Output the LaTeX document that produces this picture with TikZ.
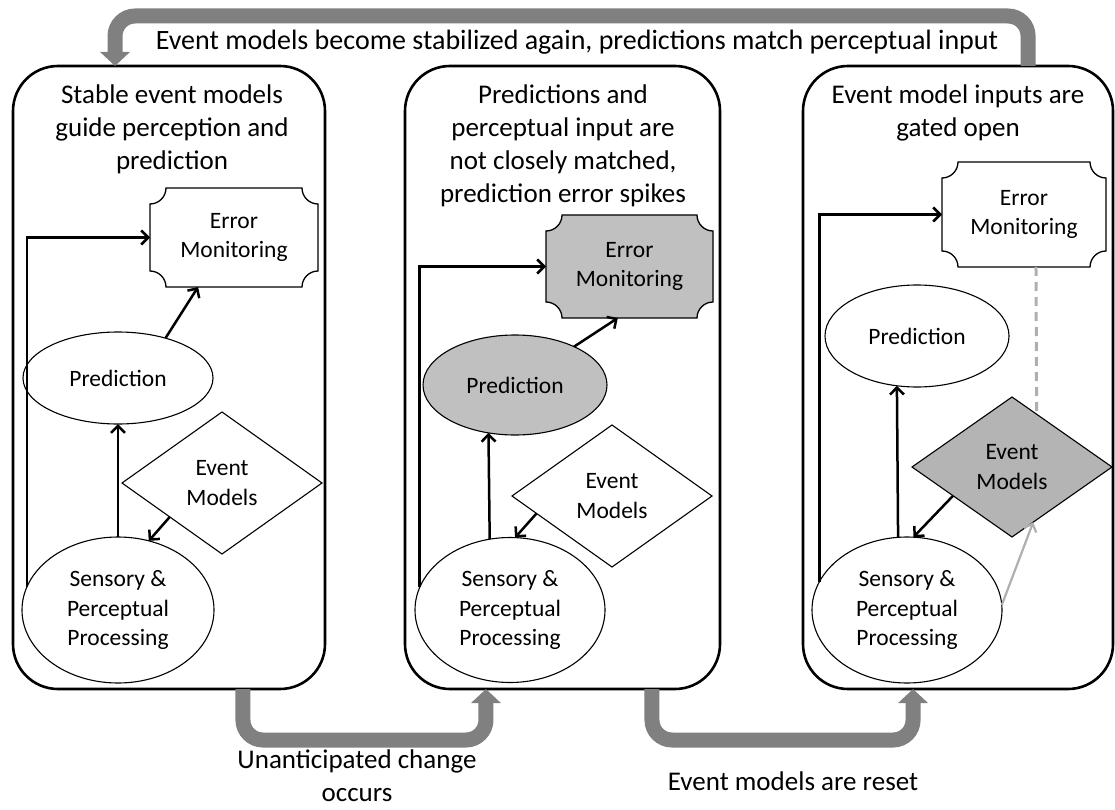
\documentclass[tikz,border=0pt]{standalone}
\usepackage{fontspec}
\setmainfont{Carlito}
\usetikzlibrary{shapes.geometric,arrows.meta,calc}
\definecolor{bigarrowgray}{RGB}{128,128,128}
\definecolor{nodegray}{RGB}{192,192,192}
\definecolor{diagray}{RGB}{180,180,180}
\definecolor{linkgray}{RGB}{175,175,175}
\newcommand\nodefont{\fontsize{23.5}{29.5}\selectfont}
\newcommand\titlefont{\fontsize{27}{33}\selectfont}
\newcommand\plaquebox[7]{%
 \pgfmathsetmacro\pxl{#2-#4}%
 \pgfmathsetmacro\pxr{#2+#4}%
 \pgfmathsetmacro\pyt{#3-#5}%
 \pgfmathsetmacro\pyb{#3+#5}%
 \draw[plaque, fill=#6] (\pxl+16,\pyt) -- (\pxr-16,\pyt)
   .. controls (\pxr-16,\pyt+8.8) and (\pxr-8.8,\pyt+16) .. (\pxr,\pyt+16)
   -- (\pxr,\pyb-16)
   .. controls (\pxr-8.8,\pyb-16) and (\pxr-16,\pyb-8.8) .. (\pxr-16,\pyb)
   -- (\pxl+16,\pyb)
   .. controls (\pxl+16,\pyb-8.8) and (\pxl+8.8,\pyb-16) .. (\pxl,\pyb-16)
   -- (\pxl,\pyt+16)
   .. controls (\pxl+8.8,\pyt+16) and (\pxl+16,\pyt+8.8) .. (\pxl+16,\pyt)
   -- cycle;
 \node[boxtext, minimum width=2*#4, minimum height=2*#5] (#1) at (#2,#3) {#7};
}
\begin{document}
\begin{tikzpicture}[x=1pt,y=-1pt,
  panel/.style={rectangle, draw=black, line width=2.6pt, rounded corners=45pt, inner sep=0pt, outer sep=0pt},
  bigarrow/.style={draw=bigarrowgray, line width=15pt, rounded corners=20pt, -{Triangle[width=29pt,length=14pt]}},
  plaque/.style={draw=black, line width=1.3pt},
  boxtext/.style={rectangle, draw=none, inner sep=0pt, outer sep=0pt, align=center, font=\nodefont},
  ellnode/.style={ellipse, draw=black, line width=1.1pt, inner sep=0pt, outer sep=0pt, align=center, font=\nodefont},
  dianode/.style={diamond, draw=black, line width=1.1pt, inner sep=0pt, outer sep=0pt, align=center, font=\nodefont, minimum width=200pt, minimum height=142pt},
  arr/.style={line width=2.5pt, -{Straight Barb[length=7pt,width=14pt]}},
  fb/.style={line width=2.5pt, -{Straight Barb[length=7pt,width=14pt]}},
  linkarrow/.style={draw=linkgray, line width=2.2pt, -{Straight Barb[length=7pt,width=13pt]}},
  linkdash/.style={draw=linkgray, line width=3pt, dash pattern=on 9pt off 6pt},
  title/.style={align=center, font=\titlefont, inner sep=0pt, anchor=north},
  label/.style={align=center, font=\titlefont, inner sep=0pt}
]
\useasboundingbox (0,0) rectangle (1115,810);

% panels
\node[panel, minimum width=312pt, minimum height=623pt] (p1) at (169,377.5) {};
\node[panel, minimum width=315pt, minimum height=623pt] (p2) at (562.5,377.5) {};
\node[panel, minimum width=310pt, minimum height=623pt] (p3) at (958,377.5) {};

% big gray arrows
\draw[bigarrow] ($(p3.north west)!0.726!(p3.north east)$) -- ++(0,-50) -| ($(p1.north west)!0.327!(p1.north east)$);
\draw[bigarrow] ($(p1.south west)!0.737!(p1.south east)$) -- ++(0,51) -| ($(p2.south west)!0.257!(p2.south east)$);
\draw[bigarrow] ($(p2.south west)!0.784!(p2.south east)$) -- ++(0,51) -| ($(p3.south west)!0.355!(p3.south east)$);

% labels of big arrows
\node[label, anchor=base, font=\fontsize{28}{33}\selectfont] (ltop) at (577,50) {Event models become stabilized again, predictions match perceptual input};
\node[label, anchor=north, font=\fontsize{27}{33}\selectfont] (lbotA) at (357,750) {Unanticipated change\\occurs};
\node[label, anchor=base] (lbotB) at (793,790) {Event models are reset};

% ---------------- panel 1
\node[title] (t1) at (172,85) {Stable event models\\guide perception and\\prediction};
\plaquebox{err1}{234}{237.5}{84}{49.5}{white}{Error\\Monitoring}
\node[ellnode, minimum width=190pt, minimum height=92pt] (pred1) at (118,378) {Prediction};
\node[dianode] (em1) at (222,483) {Event\\Models};
\node[ellnode, minimum width=192pt, minimum height=146pt] (sens1) at (118,610) {Sensory \&\\Perceptual\\Processing};
\draw[arr] (sens1.north) -- (pred1.south);
\draw[arr] (pred1.40) -- ($(err1.south west)!0.286!(err1.south east)$);
\draw[arr] (em1.213) -- (sens1.66);
\draw[fb] (sens1.166) |- (err1.west);

% ---------------- panel 2
\node[title] (t2) at (563,85) {Predictions and\\perceptual input are\\not closely matched,\\prediction error spikes};
\plaquebox{err2}{629.5}{266.5}{83.5}{51.5}{nodegray}{Error\\Monitoring}
\node[ellnode, fill=nodegray, minimum width=184pt, minimum height=100pt] (pred2) at (515,385) {Prediction};
\node[dianode] (em2) at (612,496) {Event\\Models};
\node[ellnode, minimum width=190pt, minimum height=145pt] (sens2) at (510,610) {Sensory \&\\Perceptual\\Processing};
\draw[arr] (sens2.106.6) -- (pred2.241.6);
\draw[arr] (pred2.33) -- ($(err2.south west)!0.43!(err2.south east)$);
\draw[arr] (em2.193) -- (sens2.86);
\draw[fb] (sens2.166) |- (err2.west);

% ---------------- panel 3
\node[title] (t3) at (958,85) {Event model inputs are\\gated open};
\plaquebox{err3}{1024}{214.5}{82}{52.5}{white}{Error\\Monitoring}
\node[ellnode, minimum width=184pt, minimum height=102pt] (pred3) at (917,336) {Prediction};
\node[dianode, fill=diagray, minimum height=140pt] (em3) at (1012,467) {Event\\Models};
\node[ellnode, minimum width=190pt, minimum height=146pt] (sens3) at (907,610) {Sensory \&\\Perceptual\\Processing};
\draw[arr] (sens3.97.8) -- (pred3.248.1);
\draw[arr] (em3.206) -- (sens3.85);
\draw[fb] (sens3.162.8) |- (err3.west);
\draw[linkdash] ($(err3.south west)!0.573!(err3.south east)$) -- (em3.65.7);
\draw[linkarrow] (sens3.3) -- (em3.291);
\end{tikzpicture}
\end{document}
